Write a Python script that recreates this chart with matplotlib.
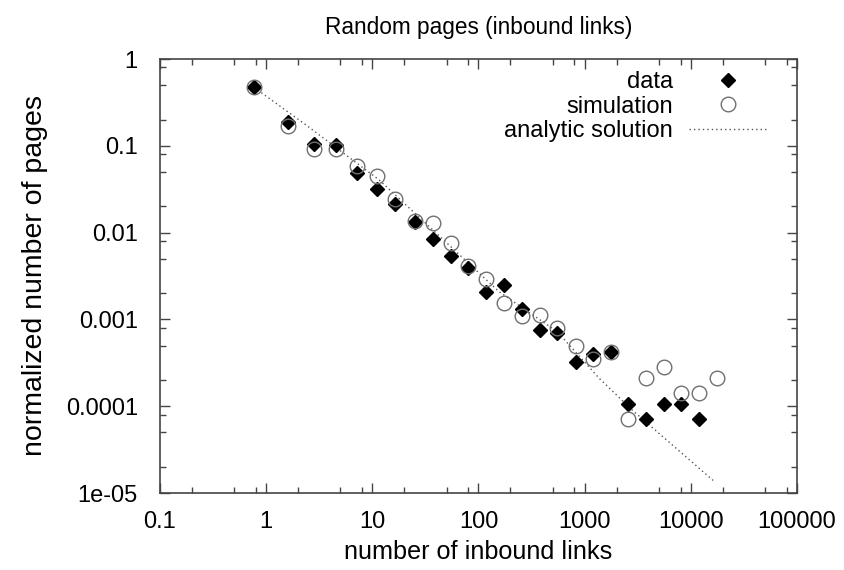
import matplotlib
matplotlib.use("Agg")
import matplotlib.pyplot as plt
from matplotlib.ticker import LogLocator, NullFormatter, FixedLocator, FixedFormatter
import numpy as np

plt.rcParams['font.family'] = ['Liberation Sans', 'DejaVu Sans']

# ---- data ----
x_data = [0.77, 1.61, 2.83, 4.56, 7.14, 11.0, 16.4, 25.1, 37.1, 54.8, 80.3, 118.7,
          174, 256, 378, 553, 824, 1200, 1762, 2582, 3786, 5594, 8140, 11940]
y_data = [0.472, 0.187, 0.105, 0.1015, 0.049, 0.0315, 0.0212, 0.0131, 0.00844,
          0.00542, 0.00388, 0.00207, 0.00249, 0.00131, 0.000755, 0.000703,
          0.00032, 0.000396, 0.000425, 0.000107, 7.1e-5, 0.000107, 0.000107, 7.1e-5]

x_sim = [0.77, 1.61, 2.83, 4.56, 7.14, 11.0, 16.4, 25.1, 37.1, 54.8, 80.3, 118.7,
         174, 256, 378, 553, 824, 1200, 1762, 2582, 3786, 5594, 8140, 11940, 17530]
y_sim = [0.472, 0.169, 0.091, 0.0927, 0.0585, 0.0449, 0.0242, 0.0135, 0.0128,
         0.00765, 0.00416, 0.0029, 0.00153, 0.00109, 0.00112, 0.000789, 0.000494,
         0.000347, 0.00042, 7.06e-5, 0.00021, 0.00028, 0.000141, 0.000141, 0.00021]

x_line = [0.77, 2.37, 11.6, 156, 553, 1367, 2812, 16500]
y_line = [0.47, 0.174, 0.0404, 0.00209, 0.00072, 0.00021, 9.0e-5, 1.37e-5]

x_ticks = [0.1, 1, 10, 100, 1000, 10000, 100000]
x_tick_labels = ["0.1", "1", "10", "100", "1000", "10000", "100000"]
y_ticks = [1e-5, 1e-4, 1e-3, 1e-2, 1e-1, 1]
y_tick_labels = ["1e-05", "0.0001", "0.001", "0.01", "0.1", "1"]

title = "Random pages (inbound links)"
xlabel = "number of inbound links"
ylabel = "normalized number of pages"

fig = plt.figure(figsize=(8.45, 5.70), dpi=100)
ax = fig.add_axes([160/845, 1-493/570, (797-160)/845, (493-59)/570])

frame_col = "#444444"
ax.plot(x_data, y_data, linestyle="none", marker="D", markersize=7.0,
        color="black", label="data", zorder=3)
ax.plot(x_sim, y_sim, linestyle="none", marker="o", markersize=10.5,
        markerfacecolor="none", markeredgecolor="#707070", markeredgewidth=1.0,
        label="simulation", zorder=4)
ax.plot(x_line, y_line, linestyle=(0, (1, 2.2)), color="#555555", linewidth=1.0,
        label="analytic solution", zorder=2)

ax.set_xscale("log")
ax.set_yscale("log")
ax.set_xlim(0.1, 100000)
ax.set_ylim(1e-5, 1)

ax.xaxis.set_major_locator(FixedLocator(x_ticks))
ax.xaxis.set_major_formatter(FixedFormatter(x_tick_labels))
ax.yaxis.set_major_locator(FixedLocator(y_ticks))
ax.yaxis.set_major_formatter(FixedFormatter(y_tick_labels))
ax.xaxis.set_minor_locator(LogLocator(base=10, subs=[2, 5, 8]))
ax.yaxis.set_minor_locator(LogLocator(base=10, subs=[2, 5, 8]))
ax.xaxis.set_minor_formatter(NullFormatter())
ax.yaxis.set_minor_formatter(NullFormatter())

ax.tick_params(which="both", direction="in", top=True, right=True,
               colors=frame_col, labelcolor="black", labelsize=17)
ax.tick_params(which="major", length=7, width=1.0)
ax.tick_params(which="minor", length=4, width=1.0)
ax.tick_params(axis="x", which="major", pad=13)
ax.tick_params(axis="y", which="major", pad=16)
for s in ax.spines.values():
    s.set_color(frame_col)
    s.set_linewidth(1.2)

ax.set_title(title, fontsize=16.3, pad=18)
ax.set_xlabel(xlabel, fontsize=18.2, labelpad=5)
ax.set_ylabel(ylabel, fontsize=20.5, labelpad=13)

leg = ax.legend(loc="upper right", markerfirst=False, frameon=False, fontsize=17,
                handlelength=3.3, handletextpad=0.7, labelspacing=0.12,
                borderaxespad=0.1, bbox_to_anchor=(0.972, 1.0))

fig.savefig("out.png", dpi=100)
